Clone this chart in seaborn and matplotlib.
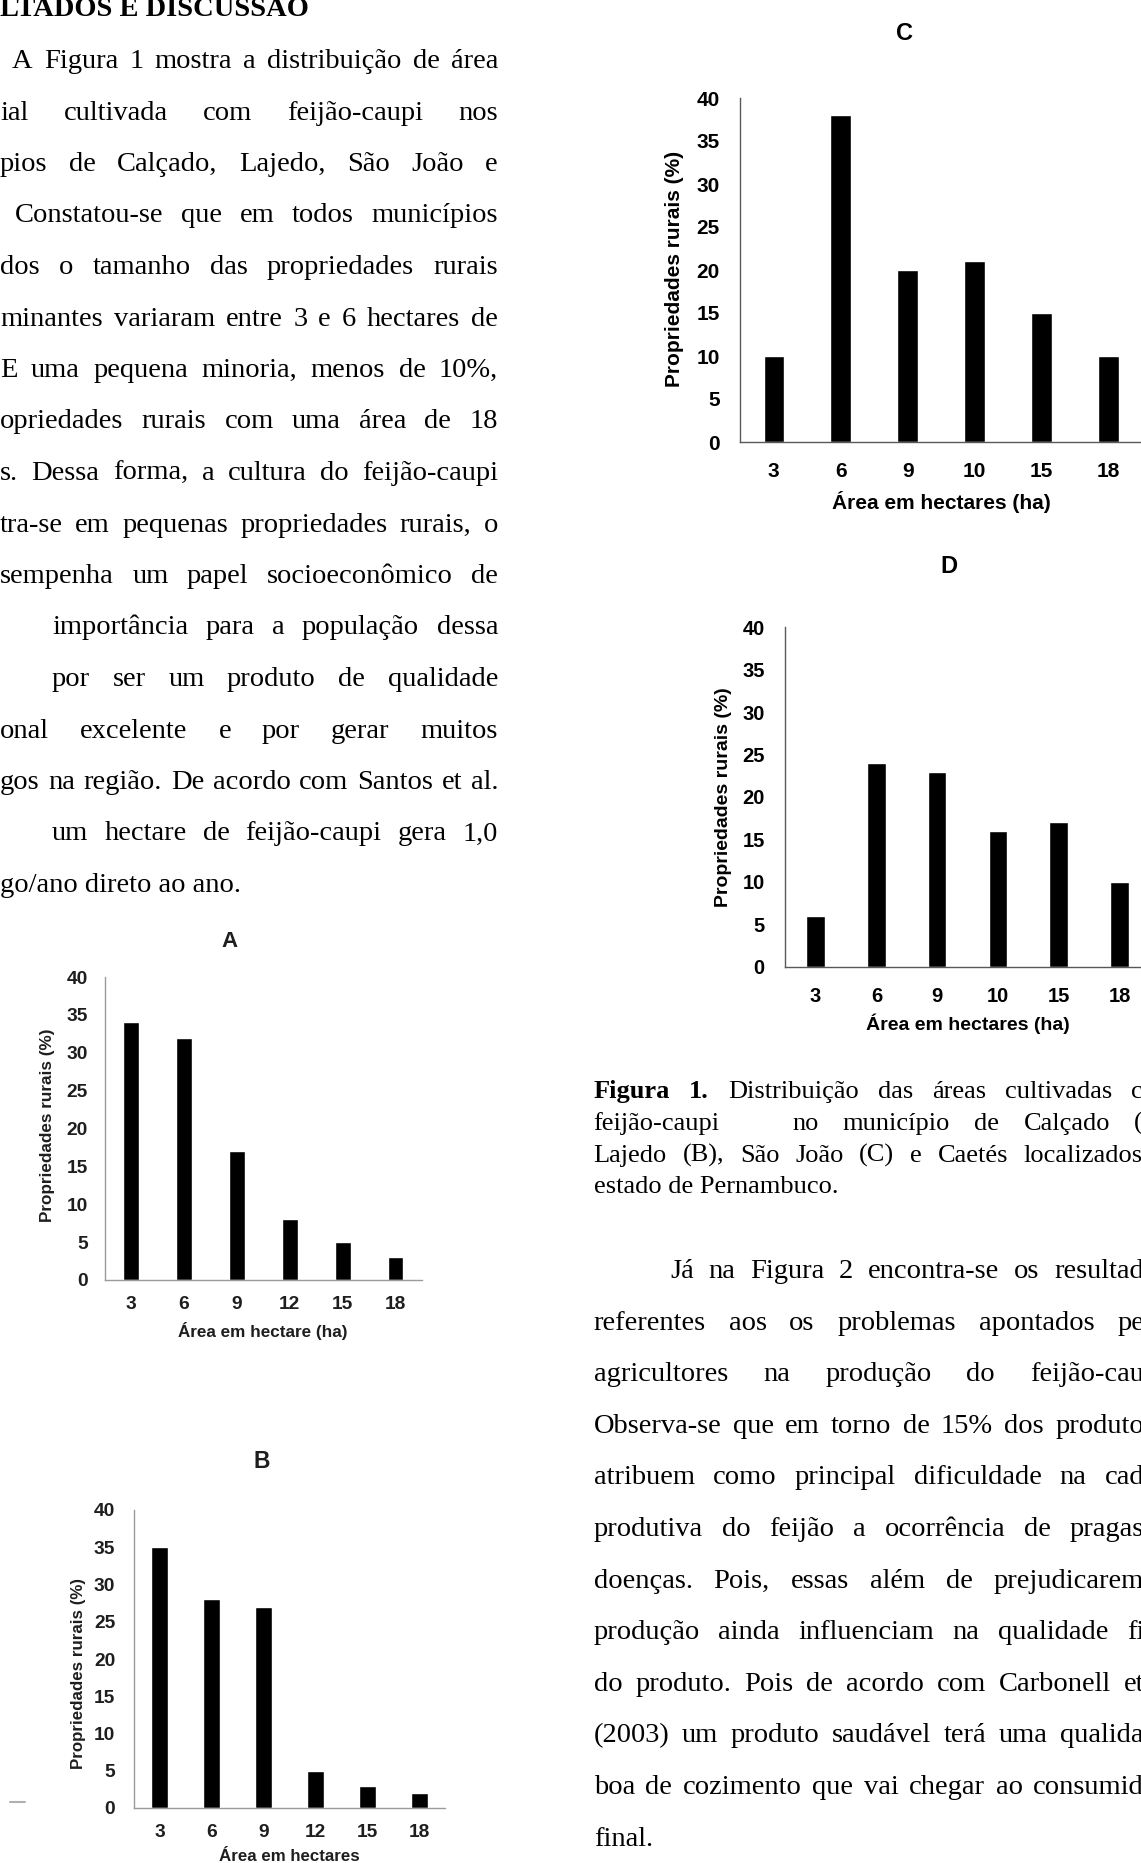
import matplotlib
matplotlib.use("Agg")
import matplotlib.pyplot as plt
import seaborn as sns
import pandas as pd
from matplotlib.transforms import IdentityTransform
from matplotlib.lines import Line2D

# ---------------- data ----------------
area_A = ["3", "6", "9", "12", "15", "18"]
pct_A = [34, 32, 17, 8, 5, 3]
area_B = ["3", "6", "9", "12", "15", "18"]
pct_B = [35, 28, 27, 5, 3, 2]
area_C = ["3", "6", "9", "10", "15", "18"]
pct_C = [10, 38, 20, 21, 15, 10]
area_D = ["3", "6", "9", "10", "15", "18"]
pct_D = [6, 24, 23, 16, 17, 10]
y_ticks = [0, 5, 10, 15, 20, 25, 30, 35, 40]
panel_titles = ["A", "B", "C", "D"]
x_labels = ["Área em hectare (ha)", "Área em hectares",
            "Área em hectares (ha)", "Área em hectares (ha)"]
y_label = "Propriedades rurais (%)"

heading = "LTADOS E DISCUSSÃO"
left_lines = [
    "A Figura 1 mostra a distribuição de área",
    "ial cultivada com feijão-caupi nos",
    "pios de Calçado, Lajedo, São João e",
    "Constatou-se que em todos municípios",
    "dos o tamanho das propriedades rurais",
    "minantes variaram entre 3 e 6 hectares de",
    "E uma pequena minoria, menos de 10%,",
    "opriedades rurais com uma área de 18",
    "s. Dessa forma, a cultura do feijão-caupi",
    "tra-se em pequenas propriedades rurais, o",
    "sempenha um papel socioeconômico de",
    "importância para a população dessa",
    "por ser um produto de qualidade",
    "onal excelente e por gerar muitos",
    "gos na região. De acordo com Santos et al.",
    "um hectare de feijão-caupi gera 1,0",
    "go/ano direto ao ano.",
]
left_x0 = [12, 0, 0, 15, 0, 0, 0, 0, 0, 0, 0, 52, 52, 0, 0, 52, 0]

caption_lines = [
    "Figura 1. Distribuição das áreas cultivadas c",
    "feijão-caupi | | no município de Calçado (",
    "Lajedo (B), São João (C) e Caetés localizados",
    "estado de Pernambuco.",
]
right_lines = [
    "Já na Figura 2 encontra-se os resultad",
    "referentes aos os problemas apontados pe",
    "agricultores na produção do feijão-cau",
    "Observa-se que em torno de 15% dos produto",
    "atribuem como principal dificuldade na cad",
    "produtiva do feijão a ocorrência de pragas",
    "doenças. Pois, essas além de prejudicarem",
    "produção ainda influenciam na qualidade fi",
    "do produto. Pois de acordo com Carbonell et",
    "(2003) um produto saudável terá uma qualida",
    "boa de cozimento que vai chegar ao consumid",
    "final.",
]

# ---------------- figure ----------------
W, H, DPI = 1141, 1863, 100
sns.set_theme(style="white")
plt.rcParams["font.family"] = ["Liberation Sans", "DejaVu Sans"]
fig = plt.figure(figsize=(W / DPI, H / DPI), dpi=DPI)
fig.patch.set_facecolor("white")
renderer = fig.canvas.get_renderer()
SERIF = ["Liberation Serif", "DejaVu Serif"]


def put_line(text, x0, base, size, x1=None, bold_words=0):
    """Place a line of text; justify between x0 and x1 if x1 given."""
    if x1 is None:
        w = "bold" if bold_words else "normal"
        fig.text(x0, H - base, text, transform=IdentityTransform(), fontsize=size,
                 family=SERIF, weight=w, ha="left", va="baseline", color="black")
        return
    words = text.split(" ")
    arts, widths = [], []
    for i, wd in enumerate(words):
        if wd == "|":
            arts.append(None)
            widths.append(0.0)
            continue
        t = fig.text(0, 0, wd, transform=IdentityTransform(), fontsize=size, family=SERIF,
                     weight="bold" if i < bold_words else "normal",
                     ha="left", va="baseline", color="black")
        arts.append(t)
        widths.append(t.get_window_extent(renderer).width)
    gap = (x1 - x0 - sum(widths)) / max(len(words) - 1, 1)
    x = x0
    for t, wd in zip(arts, widths):
        if t is not None:
            t.set_position((x, H - base))
        x += wd + gap


BODY = 20.5
CAP = 19
put_line(heading, 0, 16, BODY, bold_words=1)
for i, (ln, x0) in enumerate(zip(left_lines, left_x0)):
    base = 68 + 51.5 * i
    if i == len(left_lines) - 1:
        put_line(ln, x0, base, BODY)
    else:
        put_line(ln, x0, base, BODY, x1=498)

for i, ln in enumerate(caption_lines):
    base = 1098 + 31.8 * i
    if i == len(caption_lines) - 1:
        put_line(ln, 593.7, base, CAP)
    else:
        put_line(ln, 593.7, base, CAP, x1=1143, bold_words=2 if i == 0 else 0)

for i, ln in enumerate(right_lines):
    base = 1278 + 51.6 * i
    x0 = 670 if i == 0 else 593.7
    if i == len(right_lines) - 1:
        put_line(ln, x0, base, BODY)
    else:
        put_line(ln, x0, base, BODY, x1=1144)

# small scan artefact at lower left
fig.add_artist(Line2D([10 / W, 25 / W], [1 - 1802 / H] * 2, color="#b0b0b0", lw=1.5))


def add_ax(l, t, r, b):
    return fig.add_axes([l / W, 1 - b / H, (r - l) / W, (b - t) / H])


specs = [
    dict(box=(104.5, 977, 422, 1280), bw=0.30, ts=13.8, ls=12.3, tts=16, w="bold",
         xpad=11.5, ypad=12.0, xl_y=-0.188, yl=(-0.181, 0.51), tpad=21.8, tx=0.395,
         spc="#9a9a9a", txtc="#1e1e1e"),
    dict(box=(134, 1510, 445, 1808), bw=0.33, ts=13.8, ls=12.2, tts=16.5, w="bold",
         xpad=11.5, ypad=13.5, xl_y=-0.177, yl=(-0.18, 0.45), tpad=30, tx=0.41,
         spc="#9a9a9a", txtc="#1e1e1e"),
    dict(box=(740.3, 98, 1141.8, 442), bw=0.305, ts=15, ls=15, tts=17, w="bold",
         xpad=14.3, ypad=14.9, xl_y=-0.1948, yl=(-0.163, 0.503), tpad=41.8, tx=0.409,
         spc="#595959", txtc="black"),
    dict(box=(785.2, 627.3, 1149.9, 966.7), bw=0.305, ts=14.5, ls=14, tts=17, w="bold",
         xpad=14.8, ypad=14.8, xl_y=-0.1865, yl=(-0.1705, 0.5), tpad=38.9, tx=0.449,
         spc="#595959", txtc="black"),
]
datasets = [(area_A, pct_A), (area_B, pct_B), (area_C, pct_C), (area_D, pct_D)]

for (cats, vals), title, xlab, sp in zip(datasets, panel_titles, x_labels, specs):
    ax = add_ax(*sp["box"])
    df = pd.DataFrame({"area": cats, "pct": vals})
    sns.barplot(data=df, x="area", y="pct", order=cats, color="black", width=sp["bw"],
                errorbar=None, saturation=1, ax=ax)
    ax.set_facecolor("none")
    ax.set_xlim(-0.5, 5.5)
    ax.set_ylim(0, 40)
    sns.despine(ax=ax)
    for s in ("left", "bottom"):
        ax.spines[s].set_color(sp["spc"])
        ax.spines[s].set_linewidth(1.0)
    ax.set_xticks(range(len(cats)), labels=cats, fontsize=sp["ts"], fontweight=sp["w"],
                  color=sp["txtc"])
    ax.set_yticks(y_ticks, labels=[str(v) for v in y_ticks], fontsize=sp["ts"],
                  fontweight=sp["w"], color=sp["txtc"])
    ax.tick_params(axis="x", length=0, pad=sp["xpad"])
    ax.tick_params(axis="y", length=0, pad=sp["ypad"])
    ax.set_xlabel(xlab, fontsize=sp["ls"], fontweight=sp["w"], color=sp["txtc"],
                  va="baseline")
    ax.xaxis.set_label_coords(0.5, sp["xl_y"])
    ax.set_ylabel(y_label, fontsize=sp["ls"], fontweight=sp["w"], color=sp["txtc"],
                  va="center", ha="center")
    ax.yaxis.set_label_coords(*sp["yl"])
    t = ax.set_title(title, fontsize=sp["tts"], fontweight="bold", pad=sp["tpad"],
                     color=sp["txtc"])
    t.set_x(sp["tx"])

fig.savefig("out.png", dpi=DPI, facecolor="white")
